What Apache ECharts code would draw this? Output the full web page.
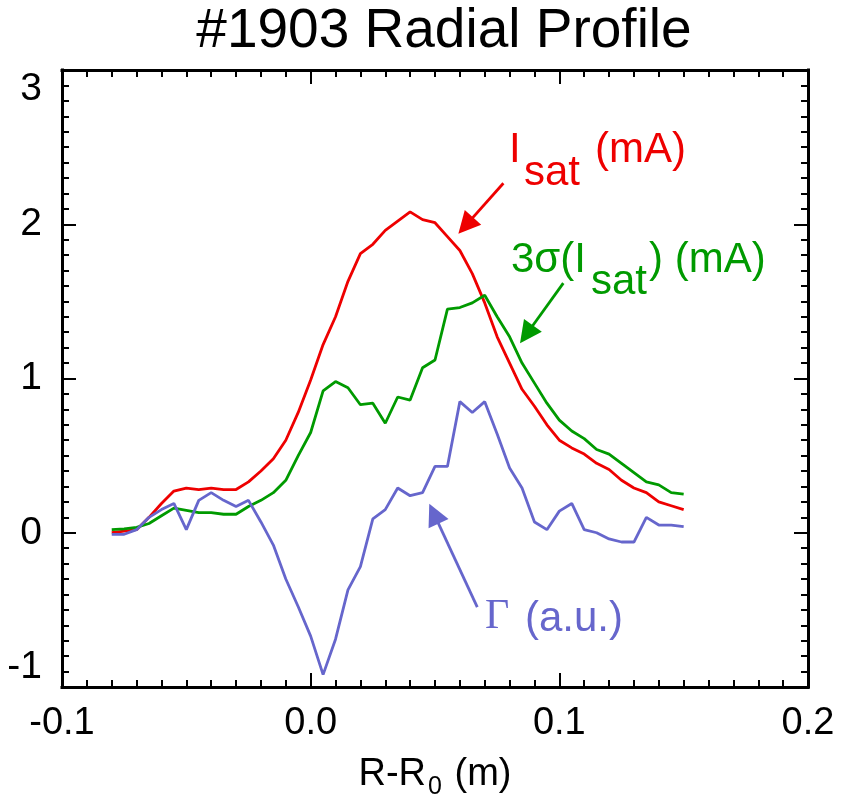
<!DOCTYPE html>
<html>
<head>
<meta charset="utf-8">
<script src="https://cdn.jsdelivr.net/npm/echarts@6/dist/echarts.min.js"></script>
<style>html,body{margin:0;padding:0;background:#fff}#c{width:843px;height:804px}</style>
</head>
<body>
<div id="c"></div>
<script>
// ---- data ----
const radius = [-0.080,-0.075,-0.070,-0.065,-0.060,-0.055,-0.050,-0.045,-0.040,-0.035,-0.030,-0.025,-0.020,-0.015,-0.010,-0.005,
  0.000,0.005,0.010,0.015,0.020,0.025,0.030,0.035,0.040,0.045,0.050,0.055,0.060,0.065,0.070,0.075,0.080,0.085,0.090,0.095,
  0.100,0.105,0.110,0.115,0.120,0.125,0.130,0.135,0.140,0.145,0.150];
const isat = [0.00,0.01,0.02,0.10,0.19,0.27,0.29,0.28,0.29,0.28,0.28,0.33,0.40,0.48,0.60,0.78,
  0.99,1.22,1.40,1.63,1.81,1.87,1.96,2.02,2.08,2.03,2.01,1.92,1.83,1.68,1.49,1.27,1.10,0.93,0.82,0.70,
  0.60,0.55,0.51,0.45,0.41,0.34,0.29,0.26,0.20,0.175,0.15];
const sigmaIsat = [0.02,0.025,0.035,0.06,0.11,0.16,0.145,0.13,0.13,0.12,0.12,0.17,0.21,0.26,0.34,0.50,
  0.65,0.92,0.98,0.94,0.83,0.84,0.71,0.88,0.86,1.07,1.12,1.45,1.46,1.49,1.54,1.40,1.27,1.10,0.97,0.84,
  0.73,0.66,0.61,0.54,0.51,0.45,0.39,0.33,0.31,0.26,0.25];
const flux = [-0.01,-0.01,0.02,0.10,0.15,0.19,0.02,0.21,0.26,0.21,0.17,0.21,0.07,-0.08,-0.30,-0.48,
  -0.67,-0.92,-0.69,-0.37,-0.22,0.09,0.15,0.29,0.24,0.26,0.43,0.43,0.85,0.78,0.85,0.64,0.42,0.29,0.07,0.02,
  0.14,0.19,0.02,0.00,-0.04,-0.06,-0.06,0.10,0.05,0.05,0.04];
const xTicks = [-0.1, 0.0, 0.1, 0.2];
const yTicks = [-1, 0, 1, 2, 3];
const titleText = '#1903 Radial Profile';
// annotation arrows (data coordinates: tail -> tip)
const arrowRed = [[0.0775, 2.266], [0.0594, 1.938]];
const arrowGreen = [[0.1016, 1.618], [0.0842, 1.229]];
const arrowBlue = [[0.0670, -0.482], [0.0477, 0.188]];

// ---- styles ----
const RED = '#ee0000', GREEN = '#009a00', BLUE = '#6666cc';
const FONT = '"Liberation Sans", Arial, Helvetica, sans-serif';
const frameLine = {color: '#000', width: 3, cap: 'square'};
const tickStyle = {color: '#000', width: 2};

function xAxisCfg(pos, showLabel) {
  return {
    type: 'value', position: pos,
    min: xTicks[0], max: xTicks[xTicks.length - 1], interval: 0.1,
    axisLine: {show: true, onZero: false, lineStyle: frameLine},
    axisTick: {show: true, inside: true, length: 14, lineStyle: tickStyle},
    minorTick: {show: true, splitNumber: 10, length: 7, lineStyle: tickStyle},
    splitLine: {show: false}, minorSplitLine: {show: false},
    axisLabel: {show: showLabel, color: '#000', fontSize: 38, fontFamily: FONT, margin: 18,
      formatter: v => (Math.abs(v) < 1e-9 ? 0 : v).toFixed(1)},
    z: 10
  };
}
function yAxisCfg(pos, showLabel) {
  return {
    type: 'value', position: pos,
    min: yTicks[0], max: yTicks[yTicks.length - 1], interval: 1,
    axisLine: {show: true, onZero: false, lineStyle: frameLine},
    axisTick: {show: true, inside: true, length: 14, lineStyle: tickStyle},
    minorTick: {show: true, splitNumber: 10, length: 7, lineStyle: tickStyle},
    splitLine: {show: false}, minorSplitLine: {show: false},
    axisLabel: {show: showLabel, color: '#000', fontSize: 39, fontFamily: FONT, margin: 20,
      verticalAlignMaxLabel: 'top', verticalAlignMinLabel: 'bottom'},
    z: 10
  };
}

const xb = xAxisCfg('bottom', true);
xb.name = '{n|R-R}{s|0}{n| (m)}';
xb.nameLocation = 'middle';
xb.nameGap = 60;
xb.nameTextStyle = {
  color: '#000', fontFamily: FONT, fontSize: 38,
  rich: {
    n: {fontSize: 38, fontFamily: FONT, color: '#000', lineHeight: 44, verticalAlign: 'top'},
    s: {fontSize: 25, fontFamily: FONT, color: '#000', lineHeight: 25, padding: [27, 2, 0, 2], verticalAlign: 'bottom'}
  }
};

function lineSeries(name, values, color) {
  return {
    name, type: 'line', xAxisIndex: 0, yAxisIndex: 0,
    data: radius.map((r, i) => [r, values[i]]),
    showSymbol: false, symbol: 'none', smooth: false, silent: true,
    lineStyle: {color, width: 2.8}, itemStyle: {color},
    emphasis: {disabled: true}, z: 3
  };
}

const chart = echarts.init(document.getElementById('c'), null, {renderer: 'canvas'});
chart.setOption({
  animation: false,
  backgroundColor: '#fff',
  grid: {left: 62, top: 70, width: 746, height: 617, containLabel: false, outerBoundsMode: 'none'},
  xAxis: [xb, xAxisCfg('top', false)],
  yAxis: [yAxisCfg('left', true), yAxisCfg('right', false)],
  series: [
    lineSeries('Isat', isat, RED),
    lineSeries('3sigma', sigmaIsat, GREEN),
    lineSeries('Gamma', flux, BLUE)
  ]
});

function arrowEls(arr, color) {
  const a = chart.convertToPixel({gridIndex: 0}, arr[0]);
  const b = chart.convertToPixel({gridIndex: 0}, arr[1]);
  const dx = b[0] - a[0], dy = b[1] - a[1];
  const len = Math.hypot(dx, dy);
  const ux = dx / len, uy = dy / len;
  const L = 22, W = 11;
  const base = [b[0] - ux * L, b[1] - uy * L];
  const nx = -uy, ny = ux;
  return [
    {type: 'line', silent: true, z: 20,
      shape: {x1: a[0], y1: a[1], x2: base[0] + ux * 2, y2: base[1] + uy * 2},
      style: {stroke: color, lineWidth: 2.8}},
    {type: 'polygon', silent: true, z: 20,
      shape: {points: [b, [base[0] + nx * W, base[1] + ny * W], [base[0] - nx * W, base[1] - ny * W]]},
      style: {fill: color}}
  ];
}
function txt(text, x, y, size, color, family, align) {
  return {type: 'text', x, y, silent: true, z: 20,
    style: {text, fill: color, font: size + 'px ' + (family || FONT), align: align || 'left', verticalAlign: 'middle'}};
}

chart.setOption({
  graphic: [
    txt(titleText, 444, 32, 55, '#000', FONT, 'center'),
    txt('I', 509, 150, 42, RED),
    txt('sat', 524, 173, 42, RED),
    txt('(mA)', 595, 150, 42, RED),
    txt('3σ(I', 511, 260, 42, GREEN),
    txt('sat', 591, 282, 42, GREEN),
    txt(') (mA)', 649, 260, 42, GREEN),
    txt('Γ', 485, 617, 42, BLUE, '"Liberation Serif", "Times New Roman", serif'),
    txt('(a.u.)', 525, 619, 42, BLUE)
  ].concat(arrowEls(arrowRed, RED), arrowEls(arrowGreen, GREEN), arrowEls(arrowBlue, BLUE))
});
</script>
</body>
</html>
